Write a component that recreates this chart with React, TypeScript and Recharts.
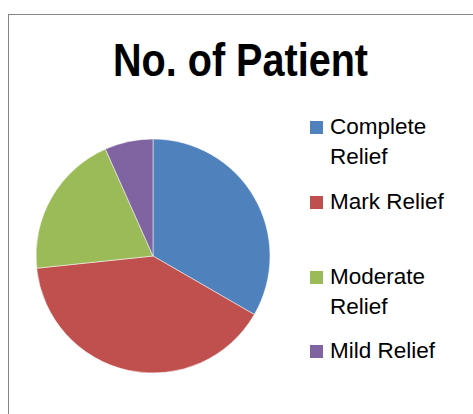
import { PieChart, Pie, Cell, Legend } from "recharts";

const categories = ["Complete Relief", "Mark Relief", "Moderate Relief", "Mild Relief"];
const patients = [10, 12, 6, 2];
const COLORS = ["#4F81BD", "#C0504D", "#9BBB59", "#8064A2"];
const TITLE = "No. of Patient";

const data = categories.map((name, i) => ({ name, value: patients[i] }));

// legend label lines (Excel wraps some labels) and their baselines
const legendLines = [["Complete", "Relief"], ["Mark Relief"], ["Moderate", "Relief"], ["Mild Relief"]];
const legendBaselines = [135, 210, 285, 359];

const FONT = "'Liberation Sans', Arial, sans-serif";

const renderLegend = (props: any) => {
  const payload = props.payload || [];
  return (
    <div style={{ position: "relative", width: 473, height: 414 }}>
      {payload.map((entry: any) => {
        const i = categories.indexOf(entry.value);
        if (i < 0) return null;
        const base = legendBaselines[i];
        return (
          <div key={`lg-${i}`}>
            <div
              style={{
                position: "absolute",
                left: 310,
                top: base - 14,
                width: 13,
                height: 13,
                background: COLORS[i],
              }}
            />
            <div
              style={{
                position: "absolute",
                left: 330,
                top: base - 23,
                fontFamily: FONT,
                fontSize: 22.5,
                lineHeight: "30px",
                color: "#000",
                whiteSpace: "nowrap",
              }}
            >
              {legendLines[i].map((l, j) => (
                <div key={j}>{l}</div>
              ))}
            </div>
          </div>
        );
      })}
    </div>
  );
};

export default function App() {
  return (
    <div
      style={{
        position: "absolute",
        left: 0,
        top: 0,
        width: 473,
        height: 414,
        background: "#fff",
        overflow: "hidden",
      }}
    >
      <div
        style={{
          position: "absolute",
          left: 8,
          top: 14,
          width: 480,
          height: 420,
          borderLeft: "1px solid #868686",
          borderTop: "1px solid #868686",
        }}
      />
      <svg
        width={473}
        height={414}
        style={{ position: "absolute", left: 0, top: 0 }}
      >
        <text
          x={240.5}
          y={76}
          textAnchor="middle"
          fontFamily={FONT}
          fontWeight="bold"
          fontSize={46}
          textLength={255}
          lengthAdjust="spacingAndGlyphs"
          fill="#000"
        >
          {TITLE}
        </text>
      </svg>
      <div style={{ position: "absolute", left: 0, top: 0 }}>
        <PieChart width={473} height={414} margin={{ top: 0, right: 0, left: 0, bottom: 0 }}>
          <Pie
            data={data}
            dataKey="value"
            nameKey="name"
            cx={153}
            cy={256}
            outerRadius={117}
            startAngle={90}
            endAngle={-270}
            stroke="#ffffff"
            strokeWidth={0.5}
            labelLine={false}
            isAnimationActive={false}
          >
            {data.map((_, index) => (
              <Cell key={`cell-${index}`} fill={COLORS[index % COLORS.length]} />
            ))}
          </Pie>
          <Legend
            content={renderLegend}
            wrapperStyle={{ position: "absolute", left: 0, top: 0, width: 473, height: 414 }}
          />
        </PieChart>
      </div>
    </div>
  );
}
